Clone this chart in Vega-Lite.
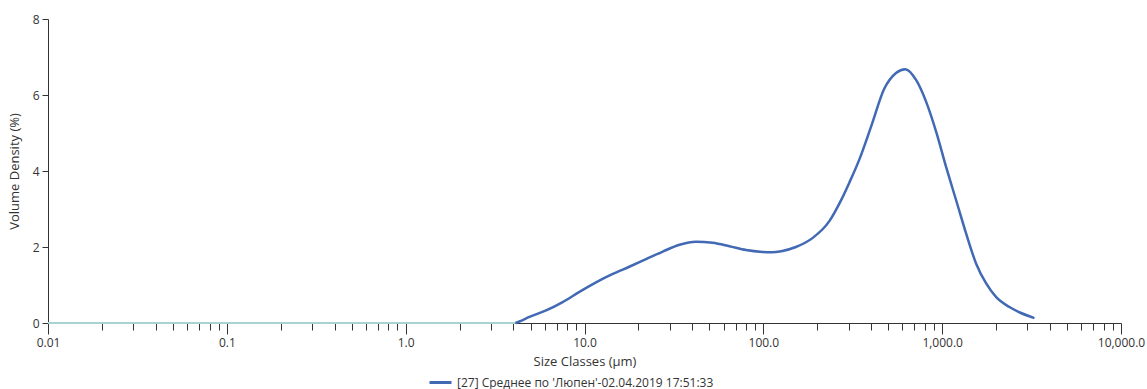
{
  "$schema": "https://vega.github.io/schema/vega-lite/v6.json",
  "width": 1073,
  "height": 304,
  "autosize": {"type": "none"},
  "padding": {"left": 48, "top": 19, "right": 26, "bottom": 66},
  "background": "white",
  "config": {
    "view": {"stroke": null},
    "font": "Open Sans",
    "axis": {"labelFont": "Open Sans", "titleFont": "Open Sans", "labelColor": "#333", "titleColor": "#333", "domainColor": "#333", "tickColor": "#333", "labelFontSize": 12, "titleFontSize": 13, "titleFontWeight": "normal", "grid": false}
  },
  "datasets": {
    "zero": [
      {"size": 0.01, "density": 0},
      {"size": 4.11, "density": 0}
    ],
    "curve": [
      {"size": 4.11, "density": 0},
      {"size": 4.32, "density": 0.04},
      {"size": 4.92, "density": 0.16},
      {"size": 6.1, "density": 0.33},
      {"size": 7.55, "density": 0.55},
      {"size": 9.37, "density": 0.82},
      {"size": 11.6, "density": 1.07},
      {"size": 14.4, "density": 1.29},
      {"size": 17.8, "density": 1.48},
      {"size": 22.1, "density": 1.68},
      {"size": 27.4, "density": 1.88},
      {"size": 34, "density": 2.06},
      {"size": 42, "density": 2.14},
      {"size": 52, "density": 2.11},
      {"size": 64.6, "density": 2.02},
      {"size": 80, "density": 1.92},
      {"size": 99, "density": 1.87},
      {"size": 112, "density": 1.86},
      {"size": 126, "density": 1.89},
      {"size": 152, "density": 2.0},
      {"size": 189, "density": 2.24},
      {"size": 234, "density": 2.68},
      {"size": 270, "density": 3.2},
      {"size": 303, "density": 3.7},
      {"size": 344, "density": 4.3},
      {"size": 400, "density": 5.16},
      {"size": 475, "density": 6.17},
      {"size": 552, "density": 6.58},
      {"size": 622, "density": 6.68},
      {"size": 716, "density": 6.39},
      {"size": 814, "density": 5.82},
      {"size": 926, "density": 5.03},
      {"size": 1053, "density": 4.1},
      {"size": 1197, "density": 3.23},
      {"size": 1362, "density": 2.35},
      {"size": 1549, "density": 1.56},
      {"size": 1762, "density": 1.04},
      {"size": 2005, "density": 0.68},
      {"size": 2378, "density": 0.42},
      {"size": 2740, "density": 0.27},
      {"size": 3281, "density": 0.13}
    ]
  },
  "encoding": {
    "x": {"field": "size", "type": "quantitative", "scale": {"type": "log", "domain": [0.01, 10000], "nice": false},
      "axis": {
        "title": "Size Classes (µm)",
        "values": [0.01,0.02,0.03,0.04,0.05,0.06,0.07,0.08,0.09,0.1,0.2,0.3,0.4,0.5,0.6,0.7,0.8,0.9,1,2,3,4,5,6,7,8,9,10,20,30,40,50,60,70,80,90,100,200,300,400,500,600,700,800,900,1000,2000,3000,4000,5000,6000,7000,8000,9000,10000],
        "labelExpr": "indexof([0.01,0.1,1,10,100,1000,10000], datum.value) < 0 ? '' : (datum.value == 0.01 ? '0.01' : (datum.value == 0.1 ? '0.1' : format(datum.value, ',.1f')))",
        "tickSize": {"condition": {"test": "indexof([0.01,0.1,1,10,100,1000,10000], datum.value) >= 0", "value": 11}, "value": 7},
        "labelPadding": 3,
        "labelFlush": false,
        "labelOverlap": false,
        "titlePadding": 7
      }
    },
    "y": {"field": "density", "type": "quantitative", "scale": {"domain": [0, 8], "nice": false},
      "axis": {"title": "Volume Density (%)", "values": [0, 2, 4, 6, 8], "tickSize": 6, "labelPadding": 3, "titlePadding": 11}
    }
  },
  "layer": [
    {
      "data": {"name": "zero"},
      "mark": {"type": "line", "color": "#a8d3cf", "strokeWidth": 2}
    },
    {
      "data": {"name": "curve"},
      "mark": {"type": "line", "strokeWidth": 2.5, "interpolate": "monotone"},
      "encoding": {
        "color": {
          "datum": "[27] Среднее по 'Люпен'-02.04.2019 17:51:33",
          "type": "nominal",
          "scale": {"range": ["#4169b4"]},
          "legend": {"title": null, "orient": "none", "legendX": 380, "legendY": 351, "symbolType": "stroke", "symbolSize": 484, "symbolStrokeWidth": 3, "labelFont": "Open Sans", "labelFontSize": 12, "labelColor": "#333", "labelLimit": 400}
        }
      }
    }
  ]
}
